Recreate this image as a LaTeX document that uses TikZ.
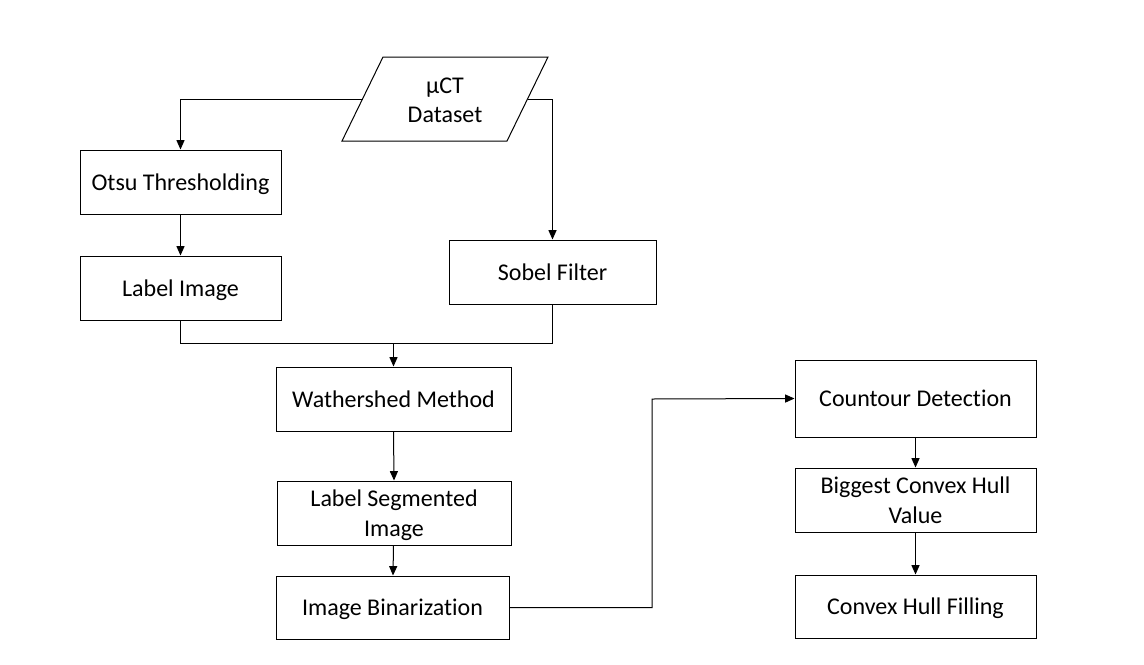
\documentclass[tikz,border=0pt]{standalone}
\usepackage{fontspec}
\setmainfont{Carlito}[Ligatures={NoCommon,NoRare}]
\usetikzlibrary{arrows.meta}
\begin{document}
\begin{tikzpicture}[x=0.75pt,y=-0.75pt,
  line width=0.75pt,
  font=\fontsize{18}{22}\selectfont,
  box/.style={draw,rectangle,inner sep=0pt,align=center,text depth=0pt},
  arr/.style={-{Triangle[length=7pt,width=6pt]}}]
\useasboundingbox (0,0) rectangle (1144,664);
% parallelogram
\draw (383,57) -- (548,57) -- (507,141) -- (342,141) -- cycle;
\node[align=center] (ds) at (445,100) {µCT\\Dataset};
\coordinate (dsl) at (362.5,99);
\coordinate (dsr) at (527.5,99);
% boxes
\node[box, minimum width=201*0.75pt, minimum height=64*0.75pt] (otsu) at (180.5,182) {Otsu Thresholding};
\node[box, minimum width=201*0.75pt, minimum height=64*0.75pt] (label) at (180.5,288) {Label Image};
\node[box, minimum width=207*0.75pt, minimum height=64*0.75pt] (sobel) at (552.5,272) {Sobel Filter};
\node[box, minimum width=235*0.75pt, minimum height=64*0.75pt] (water) at (393.5,399) {Wathershed Method};
\node[box, minimum width=234*0.75pt, minimum height=64*0.75pt] (seg) at (394,513) {Label Segmented\\Image};
\node[box, minimum width=233*0.75pt, minimum height=63*0.75pt] (bin) at (392.5,607.5) {Image Binarization};
\node[box, minimum width=241*0.75pt, minimum height=77*0.75pt] (cont) at (915.5,398.5) {Countour Detection};
\node[box, minimum width=241*0.75pt, minimum height=64*0.75pt] (big) at (915.5,500) {Biggest Convex Hull\\Value};
\node[box, minimum width=241*0.75pt, minimum height=63*0.75pt] (fill) at (915.5,606.5) {Convex Hull Filling};
% connectors
\draw[arr] (dsl) -| (otsu.north);
\draw[arr] (dsr) -| (sobel.north);
\draw[arr] (otsu) -- (label);
\coordinate (j) at (393.5,343);
\draw (label.south) |- (j);
\draw (sobel.south) |- (j);
\draw[arr] (j) -- (water.north);
\draw[arr] (water.south) -- (seg.north);
\draw[arr] (seg) -- (bin);
\coordinate (m) at (652,399);
\draw[arr] (bin.east) -| (m) -- (cont.west);
\draw[arr] (cont) -- (big);
\draw[arr] (big) -- (fill);
\end{tikzpicture}
\end{document}
